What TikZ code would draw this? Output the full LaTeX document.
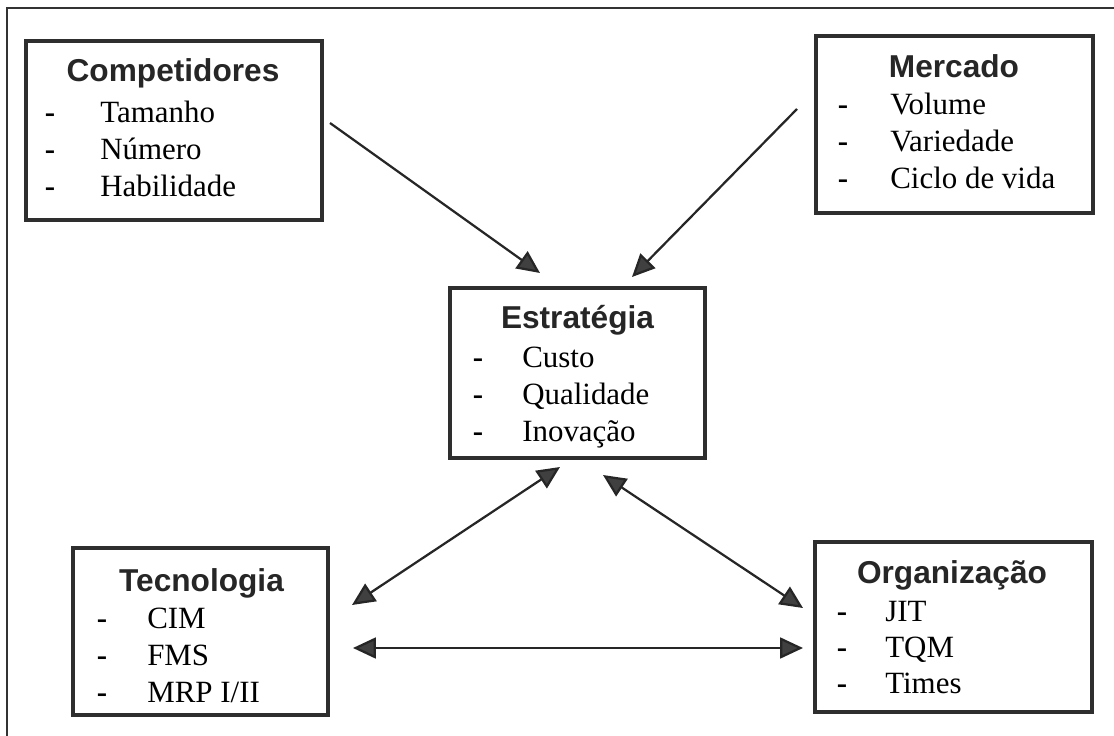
\documentclass[tikz,border=0pt]{standalone}
\usepackage{fontspec}
\setmainfont{Liberation Serif}
\newfontfamily\headfont{Liberation Sans}
\usetikzlibrary{arrows.meta}
\definecolor{inkgray}{HTML}{2E2E2E}
\definecolor{headgray}{HTML}{262626}
\tikzset{
	box/.style={draw=inkgray, line width=2.6pt, inner sep=0pt},
	head/.style={font=\headfont\bfseries\fontsize{22.5}{26}\selectfont, text=headgray, anchor=base, inner sep=0pt},
	entry/.style={font=\fontsize{22}{26}\selectfont, anchor=base west, inner sep=0pt},
	dashmark/.style={font=\bfseries\fontsize{22}{26}\selectfont, anchor=base, inner sep=0pt},
	conn/.style={draw=black!85, line width=1.6pt, -{Triangle[length=0.57cm, width=0.52cm, fill=black!75]}},
	biconn/.style={draw=black!85, line width=1.6pt, {Triangle[length=0.57cm, width=0.52cm, fill=black!75]}-{Triangle[length=0.57cm, width=0.52cm, fill=black!75]}}
}

\begin{document}
\begin{tikzpicture}[x=0.025cm, y=-0.025cm]
			%%%%% START %%%%%
			\useasboundingbox (0,0) rectangle (1114,736);
			\draw[line width=1.3pt, black!80] (7,8) rectangle (1122,744);
			
			\node[box, minimum width=7.4cm, minimum height=4.475cm] (comp) at (174,130.5) {};
			\node[head] (comp-t) at (173,82) {Competidores};
			\foreach \lbl [count=\i] in {Tamanho,Número,Habilidade} {
				\node[dashmark] (comp-d\i) at (50,85+37*\i) {-};
				\node[entry] (comp-\i) at (100,85+37*\i) {\lbl};
			}
			
			\node[box, minimum width=6.925cm, minimum height=4.425cm] (merc) at (954.5,124.5) {};
			\node[head] (merc-t) at (954,78) {Mercado};
			\foreach \lbl [count=\i] in {Volume,Variedade,Ciclo de vida} {
				\node[dashmark] (merc-d\i) at (843,78+37*\i) {-};
				\node[entry] (merc-\i) at (890,78+37*\i) {\lbl};
			}
			
			\node[box, minimum width=6.375cm, minimum height=4.25cm] (estr) at (577.5,373) {};
			\node[head] (estr-t) at (577.5,328) {Estratégia};
			\foreach \lbl [count=\i] in {Custo,Qualidade,Inovação} {
				\node[dashmark] (estr-d\i) at (478,330+37*\i) {-};
				\node[entry] (estr-\i) at (522,330+37*\i) {\lbl};
			}
			
			\node[box, minimum width=6.375cm, minimum height=4.175cm] (tecn) at (200.5,631.5) {};
			\node[head] (tecn-t) at (201.5,591) {Tecnologia};
			\foreach \lbl [count=\i] in {CIM,FMS,MRP I/II} {
				\node[dashmark] (tecn-d\i) at (102,591+37*\i) {-};
				\node[entry] (tecn-\i) at (147,591+37*\i) {\lbl};
			}
			
			\node[box, minimum width=6.925cm, minimum height=4.25cm] (orga) at (953.5,627) {};
			\node[head] (orga-t) at (952,583) {Organização};
			\foreach \lbl [count=\i] in {JIT,TQM,Times} {
				\node[dashmark] (orga-d\i) at (842,585+36*\i) {-};
				\node[entry] (orga-\i) at (885,585+36*\i) {\lbl};
			}
			
			% connector ends
			\coordinate (comp-out) at (330,123);
			\coordinate (estr-nw) at (540,273);
			\coordinate (merc-out) at (797,109);
			\coordinate (estr-ne) at (632,277);
			\coordinate (estr-sw) at (560,467);
			\coordinate (tecn-ne) at (352,605);
			\coordinate (estr-se) at (603,475);
			\coordinate (orga-nw) at (803,608);
			\coordinate (tecn-e) at (353,648);
			\coordinate (orga-w) at (803,648);
			
			\draw[conn] (comp-out) -- (estr-nw);
			\draw[conn] (merc-out) -- (estr-ne);
			\draw[biconn] (estr-sw) -- (tecn-ne);
			\draw[biconn] (estr-se) -- (orga-nw);
			\draw[biconn] (tecn-e) -- (orga-w);
			%%%%% END %%%%%
\end{tikzpicture}
\end{document}
